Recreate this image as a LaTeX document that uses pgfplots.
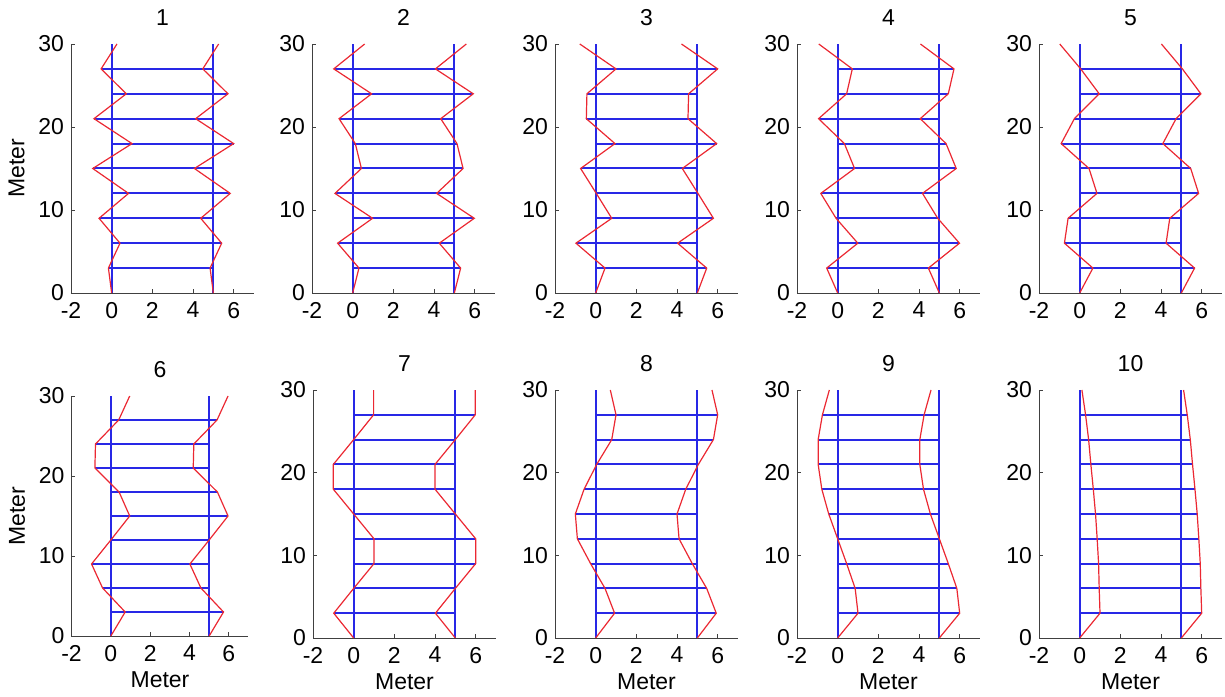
\documentclass[border=0pt]{standalone}
\usepackage{fontspec}
\setmainfont{Liberation Sans}
\usepackage{pgfplots}
\usepackage{pgfplotstable}
\pgfplotsset{compat=1.18}

% floor height and horizontal displacement of each mode (normalised)
\pgfplotstableread{
y  m1    m2    m3    m4    m5    m6    m7    m8    m9    m10
0  0     0     0     0     0     0     0     0     0     0
3  -0.16 0.31  0.46  -0.54 0.65  0.73  -0.98 0.93  1.00  1.00
6  0.41  -0.74 -0.97 0.99  -0.75 -0.42 0.00  0.46  0.86  0.96
9  -0.62 0.98  0.79  -0.08 -0.57 -0.98 1.00  -0.25 0.44  0.93
12 0.83  -0.87 0.03  -0.83 0.85  0.00  1.00  -0.90 0.00  0.86
15 -0.93 0.43  -0.74 0.83  0.46  0.96  0.00  -1.00 -0.44 0.78
18 1.00  0.13  0.95  0.33  -0.91 0.42  -1.00 -0.57 -0.78 0.67
21 -0.87 -0.67 -0.46 -0.94 -0.26 -0.81 -1.00 0.05  -0.96 0.55
24 0.72  0.93  -0.43 0.44  0.96  -0.78 0.00  0.79  -0.96 0.44
27 -0.52 -0.93 1.00  0.72  0.05  0.40  0.98  1.00  -0.75 0.29
30 0.26  0.59  -0.78 -0.93 -0.98 0.96  0.98  0.72  -0.41 0.11
}\modes

\newcommand{\fnt}{\fontsize{11.5}{13}\selectfont}
\definecolor{mblue}{RGB}{40,40,230}
\definecolor{mred}{RGB}{235,40,50}

\pgfplotsset{
  common/.style={
    scale only axis, anchor=south west,
    width=91.5pt, height=124.5pt,
    xmin=-2, xmax=7, ymin=0, ymax=30,
    xtick={-2,0,2,4,6}, ytick={0,10,20,30},
    axis x line*=bottom, axis y line*=left,
    axis line style={black!75, line width=0.4pt, -},
    tick align=inside, major tick length=2pt,
    tick style={black!75, line width=0.4pt},
    ticklabel style={font=\fnt},
    xticklabel style={yshift=-1pt},
    /pgf/number format/assume math mode=true,
    title style={font=\fnt, yshift=-0.5pt},
    label style={font=\fnt},
    xlabel style={yshift=1.5pt},
    clip=false,
  },
  beam/.style={draw=none, mark=none,
    restrict y to domain=1:29,
    error bars/.cd, x dir=plus, x fixed=5, error mark=none,
    error bar style={draw=mblue, line width=1pt}},
}

\newcommand{\panel}[4]{%
\begin{axis}[common, at={(#1,#2)}, title={#3}, #4]
\addplot[mblue, line width=1pt] coordinates {(0,0) (0,30)};
\addplot[mblue, line width=1pt] coordinates {(5,0) (5,30)};
\addplot[beam] table[x expr=0, y=y] {\modes};
\addplot[beam] table[x=m#3, y=y] {\modes};
\addplot[mred, line width=0.6pt] table[x=m#3, y=y] {\modes};
\addplot[mred, line width=0.6pt] table[x expr=\thisrow{m#3}+5, y=y] {\modes};
\end{axis}}

\begin{document}
\begin{tikzpicture}
\useasboundingbox (0,0) rectangle (612.5pt,348pt);
\panel{35.5pt}{201.5pt}{1}{ylabel={Meter}}
\panel{156pt}{201.5pt}{2}{}
\panel{277.5pt}{201.5pt}{3}{}
\panel{398.5pt}{201.5pt}{4}{}
\panel{519.5pt}{201.5pt}{5}{}
\panel{35.75pt}{30pt}{6}{ylabel={Meter}, xlabel={Meter}, width=88.5pt, height=120pt}
\panel{156.5pt}{29pt}{7}{xlabel={Meter}, height=124pt}
\panel{277.5pt}{29pt}{8}{xlabel={Meter}, height=124pt}
\panel{398.5pt}{29pt}{9}{xlabel={Meter}, height=124pt}
\panel{519.5pt}{29pt}{10}{xlabel={Meter}, height=124pt}
\end{tikzpicture}
\end{document}
